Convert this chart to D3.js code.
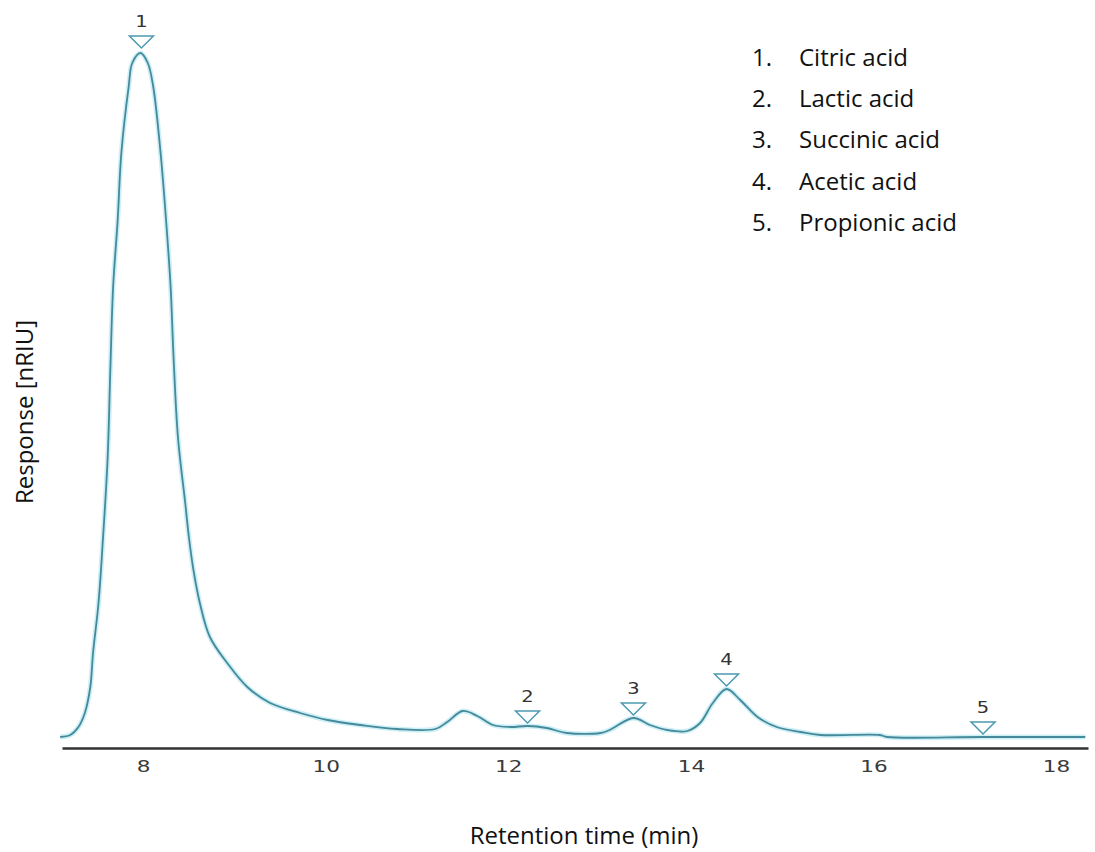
<!DOCTYPE html>
<html lang="en">
<head>
    <meta charset="UTF-8" />
    <title>Organic acids chromatogram</title>
    <script src="https://d3js.org/d3.v7.min.js"></script>
    <style>
        body { margin: 0; background: #fff; }
        .tick text { fill: #3a3a3a; }
    </style>
</head>

<body>
    <script>
        // chromatogram trace (time in min, response in nRIU)
        var retentionTime = [7.09, 7.20, 7.29, 7.36, 7.42, 7.45, 7.51, 7.56, 7.61, 7.64, 7.67, 7.72, 7.76, 7.84, 7.88, 7.97,
            8.05, 8.11, 8.19, 8.25, 8.30, 8.33, 8.38, 8.46, 8.50, 8.55, 8.62, 8.73, 8.92, 9.14, 9.39, 9.72,
            10.02, 10.38, 10.78, 11.20, 11.33, 11.50, 11.66, 11.83, 12.02, 12.21, 12.42, 12.64, 13.01, 13.11,
            13.37, 13.55, 13.74, 13.96, 14.10, 14.24, 14.39, 14.54, 14.73, 14.94, 15.20, 15.42, 16.07, 16.15,
            17.20, 18.32];
        var response = [11, 13, 21, 35, 61, 95, 145, 211, 290, 380, 461, 528, 595, 661, 685, 695,
            685, 661, 595, 528, 461, 395, 311, 245, 211, 178, 145, 111, 85, 61, 45, 35,
            28, 23, 19, 19, 26, 37, 32, 23, 21, 22, 20, 15, 15, 18,
            30, 23, 18, 17, 25, 45, 59, 48, 31, 21, 16, 13, 13, 11,
            11, 11];

        // identified peaks
        var peakNumbers = [1, 2, 3, 4, 5];
        var peakNames = ["Citric acid", "Lactic acid", "Succinic acid", "Acetic acid", "Propionic acid"];
        var peakTimes = [7.98, 12.21, 13.37, 14.39, 17.2];
        var peakHeights = [697, 22, 30, 59, 11];

        var xTicks = [8, 10, 12, 14, 16, 18];

        var w = 1095;
        var h = 852;
        var lineColor = "#45899a";
        var markColor = "#4d9ab0";

        var svg = d3.select("body")
            .append("svg")
            .attr("width", w)
            .attr("height", h);

        svg.append("rect")
            .attr("width", w)
            .attr("height", h)
            .attr("fill", "#fff");

        // Scales
        var xScale = d3.scaleLinear()
            .domain([7.11, 18.35])
            .range([62, 1088]);

        var yScale = d3.scaleLinear()
            .domain([0, 700])
            .range([748, 48]);

        // x axis
        var xAxis = svg.append("g")
            .attr("transform", "translate(0,748)")
            .call(d3.axisBottom(xScale)
                .tickValues(xTicks)
                .tickSize(0)
                .tickSizeOuter(0)
                .tickPadding(13));

        xAxis.select(".domain")
            .attr("stroke", "#333")
            .attr("stroke-width", 2.5);

        xAxis.selectAll(".tick text")
            .attr("font-family", "DejaVu Sans, sans-serif")
            .attr("font-size", 16)
            .attr("transform", "scale(1.35,1)");

        // trace
        var line = d3.line()
            .x(function(d, i) { return xScale(retentionTime[i]); })
            .y(function(d) { return yScale(d); })
            .curve(d3.curveCatmullRom.alpha(0.5));

        svg.append("path")
            .datum(response)
            .attr("d", line)
            .attr("fill", "none")
            .attr("stroke", "#cdeff6")
            .attr("stroke-width", 5)
            .attr("stroke-linejoin", "round");

        svg.append("path")
            .datum(response)
            .attr("d", line)
            .attr("fill", "none")
            .attr("stroke", lineColor)
            .attr("stroke-width", 1.8)
            .attr("stroke-linejoin", "round");

        // peak markers (down triangles) and numbers
        var markers = svg.selectAll(".peak")
            .data(peakNumbers)
            .enter()
            .append("g")
            .attr("class", "peak")
            .attr("transform", function(d, i) {
                return "translate(" + xScale(peakTimes[i]) + "," + (yScale(peakHeights[i]) - 3) + ")";
            });

        markers.append("path")
            .attr("d", "M0,0 L-12,-12 L12,-12 Z")
            .attr("fill", "#fff")
            .attr("stroke", markColor)
            .attr("stroke-width", 1.5);

        markers.append("text")
            .text(function(d) { return d; })
            .attr("y", -21)
            .attr("text-anchor", "middle")
            .attr("font-family", "DejaVu Sans, sans-serif")
            .attr("font-size", 15)
            .attr("fill", "#333")
            .attr("transform", "scale(1.3,1)");

        // legend
        var legend = svg.selectAll(".legend")
            .data(peakNames)
            .enter()
            .append("g")
            .attr("class", "legend")
            .attr("transform", function(d, i) {
                return "translate(752," + (66 + i * 41.2) + ")";
            })
            .attr("font-family", "Open Sans, sans-serif")
            .attr("font-size", 24)
            .attr("fill", "#111");

        legend.append("text")
            .text(function(d, i) { return peakNumbers[i] + "."; });

        legend.append("text")
            .attr("x", 47)
            .text(function(d) { return d; });

        // axis titles
        svg.append("text")
            .attr("x", 584)
            .attr("y", 844)
            .attr("text-anchor", "middle")
            .attr("font-family", "Open Sans, sans-serif")
            .attr("font-size", 24)
            .attr("fill", "#111")
            .text("Retention time (min)");

        svg.append("text")
            .attr("transform", "translate(33,412) rotate(-90)")
            .attr("text-anchor", "middle")
            .attr("font-family", "Open Sans, sans-serif")
            .attr("font-size", 24)
            .attr("fill", "#111")
            .text("Response [nRIU]");
    </script>
</body>
</html>
